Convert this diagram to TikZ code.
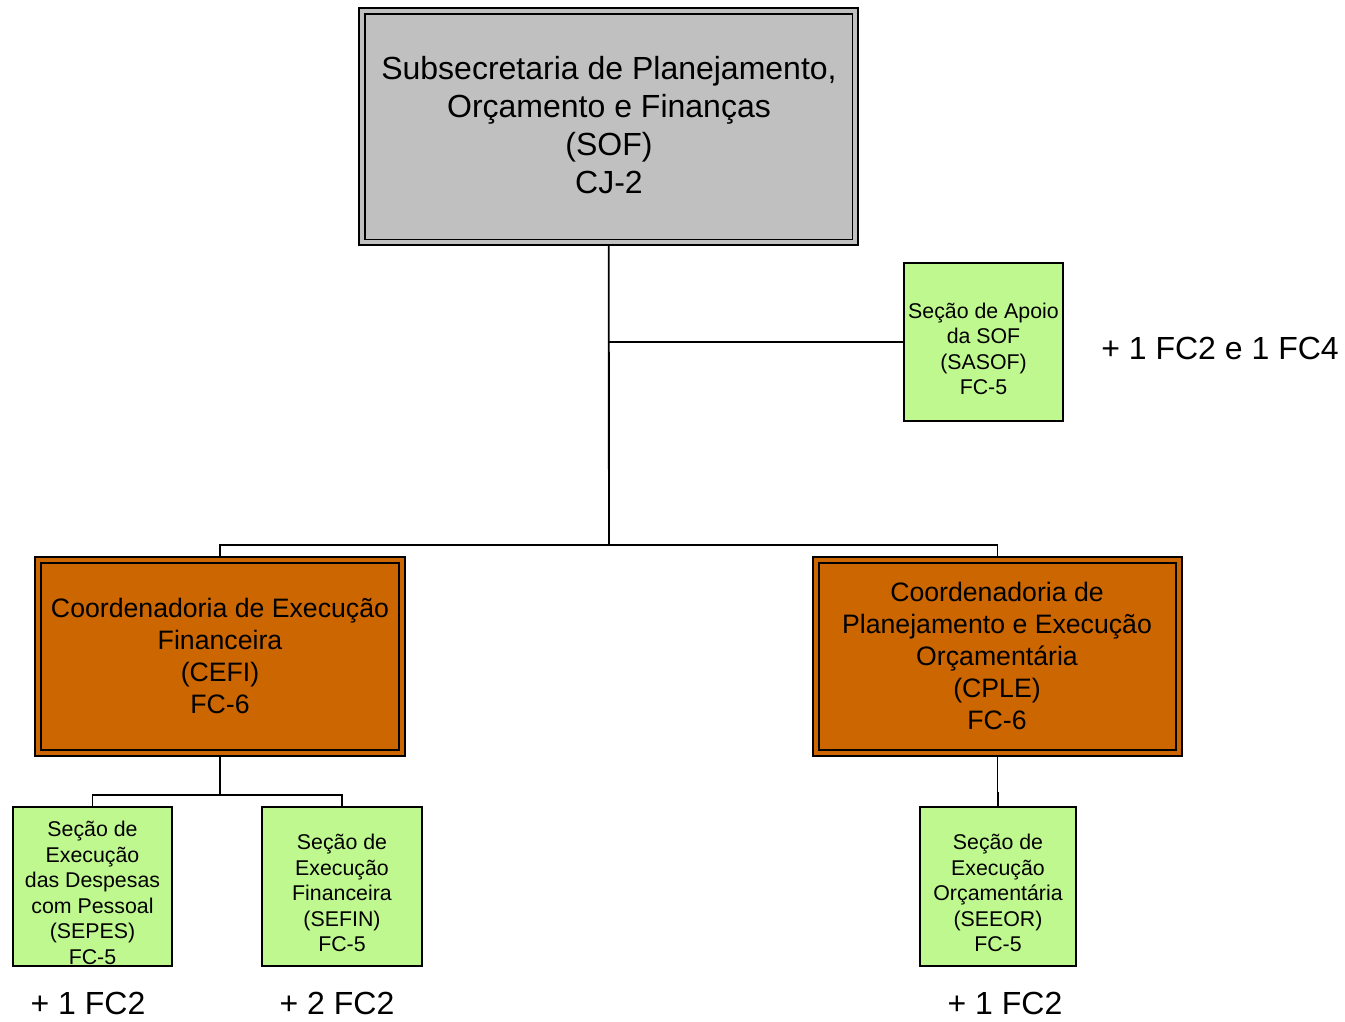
\documentclass[tikz,border=0pt]{standalone}
\usepackage{fontspec}
\setmainfont{Liberation Sans}
\usetikzlibrary{backgrounds}
\definecolor{sofgray}{HTML}{C0C0C0}
\definecolor{coordorange}{HTML}{CC6600}
\definecolor{secgreen}{HTML}{C0F890}
\begin{document}
\begin{tikzpicture}[x=0.75pt,y=-0.75pt,
  dbox/.style={draw=black,line width=1.2pt,double distance=3pt,inner sep=0pt},
  sbox/.style={draw=black,line width=1.2pt,fill=secgreen,inner sep=0pt,minimum width=119.25pt,minimum height=118.5pt},
  toptext/.style={align=center,font=\fontsize{24}{28.5}\selectfont,inner sep=0pt},
  midtext/.style={align=center,font=\fontsize{20}{24}\selectfont,inner sep=0pt},
  smalltext/.style={align=center,font=\fontsize{16}{19.1}\selectfont,inner sep=0pt},
  extratext/.style={font=\fontsize{24}{28}\selectfont,inner sep=0pt},
  conn/.style={draw=black,line width=1.4pt}]
\useasboundingbox (0,0) rectangle (1345,1021);
% boxes
\node[dbox,fill=sofgray,double=sofgray,minimum width=370pt,minimum height=173.6pt] (sof) at (608.7,126.7) {};
\node[dbox,fill=coordorange,double=coordorange,minimum width=273pt,minimum height=144.75pt] (cefi) at (220,656.5) {};
\node[dbox,fill=coordorange,double=coordorange,minimum width=272.25pt,minimum height=144.75pt] (cple) at (997.5,656.5) {};
\node[sbox] (sasof) at (983.5,342) {};
\node[sbox,minimum width=119.25pt,minimum height=119.25pt] (sepes) at (92.5,886.5) {};
\node[sbox,minimum width=120pt,minimum height=119.25pt] (sefin) at (342,886.5) {};
\node[sbox,minimum width=117pt,minimum height=119.25pt] (seeor) at (998,886.5) {};
% texts
\node[toptext] (sofT) at (609,125.5) {Subsecretaria de Planejamento,\\Orçamento e Finanças\\(SOF)\\CJ-2};
\node[midtext] (cefiT) at (220,656) {Coordenadoria de Execução\\Financeira\\(CEFI)\\FC-6};
\node[midtext] (cpleT) at (997,656) {Coordenadoria de\\Planejamento e Execução\\Orçamentária\\(CPLE)\\FC-6};
\node[smalltext] (sasofT) at (983.5,349) {Seção de Apoio\\da SOF\\(SASOF)\\FC-5};
\node[smalltext] (sepesT) at (92.5,893) {Seção de\\Execução\\das Despesas\\com Pessoal\\(SEPES)\\FC-5};
\node[smalltext] (sefinT) at (342,893) {Seção de\\Execução\\Financeira\\(SEFIN)\\FC-5};
\node[smalltext] (seeorT) at (998,893) {Seção de\\Execução\\Orçamentária\\(SEEOR)\\FC-5};
\node[extratext] (x1) at (1220,348) {+ 1 FC2 e 1 FC4};
\node[extratext] (x2) at (88,1003) {+ 1 FC2};
\node[extratext] (x3) at (337,1003) {+ 2 FC2};
\node[extratext] (x4) at (1005,1003) {+ 1 FC2};
% connectors
\coordinate (bus) at (609,545);
\coordinate (bus2) at (220,795);
\begin{scope}[on background layer]
\draw[conn] (sof.south) -- (bus);
\draw[conn] (cefi.north) |- (bus) -| (cple.north);
\draw[conn] (sof.south |- sasof.west) -- (sasof.west);
\draw[conn] (cefi.south) -- (bus2);
\draw[conn] (sepes.north) |- (bus2) -| (sefin.north);
\draw[conn] (cple.south) -- ++(0,39) -| (seeor.north);
\end{scope}
\end{tikzpicture}
\end{document}
